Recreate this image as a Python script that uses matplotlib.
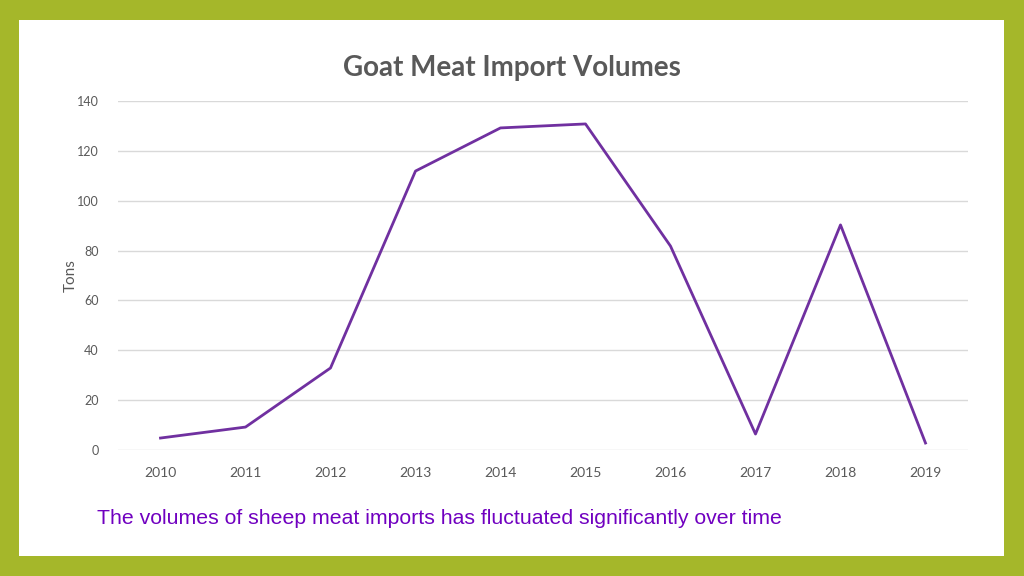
import matplotlib.pyplot as plt
from matplotlib.patches import Rectangle

# data
years = ["2010", "2011", "2012", "2013", "2014", "2015", "2016", "2017", "2018", "2019"]
tons = [4.8, 9.2, 32.9, 111.9, 129.2, 130.8, 81.8, 6.4, 90.3, 2.8]
y_ticks = [0, 20, 40, 60, 80, 100, 120, 140]

grey = "#595959"

fig = plt.figure(figsize=(10.24, 5.76), dpi=100)
fig.patch.set_facecolor("#a5b72a")
# white slide area inside the green frame
fig.patches.append(Rectangle((19 / 1024, 20 / 576), 985 / 1024, 536 / 576,
                             transform=fig.transFigure, facecolor="white",
                             edgecolor="none", zorder=-5))

ax = fig.add_axes([118 / 1024, 1 - 450 / 576, 850 / 1024, 349 / 576])
ax.set_facecolor("none")
x = range(len(years))
ax.plot(x, tons, color="#7030a0", lw=2)
ax.set_xlim(-0.5, len(years) - 0.5)
ax.set_ylim(0, 140)
ax.set_xticks(list(x))
ax.set_xticklabels(years)
ax.set_yticks(y_ticks)
ax.grid(axis="y", color="#d9d9d9", lw=1)
ax.set_axisbelow(True)
for s in ax.spines.values():
    s.set_visible(False)
ax.tick_params(length=0, colors=grey)
ax.tick_params(axis="x", pad=12, labelsize=10)
ax.tick_params(axis="y", pad=14, labelsize=9)
for lab in ax.get_xticklabels() + ax.get_yticklabels():
    lab.set_fontfamily("Lato")
ax.set_ylabel("Tons", color=grey, fontsize=11, fontfamily="Lato")
ax.yaxis.set_label_coords(-0.047, 0.5)

fig.text(512 / 1024, 1 - 68 / 576, "Goat Meat Import Volumes", ha="center", va="center",
         fontsize=20, fontweight="bold", color=grey, fontfamily="Lato")
fig.text(97 / 1024, 1 - 519 / 576, "The volumes of sheep meat imports has fluctuated significantly over time",
         ha="left", va="center", fontsize=15.3, color="#7000c0", fontfamily="Liberation Sans")

fig.savefig("out.png", dpi=100, facecolor=fig.get_facecolor())
